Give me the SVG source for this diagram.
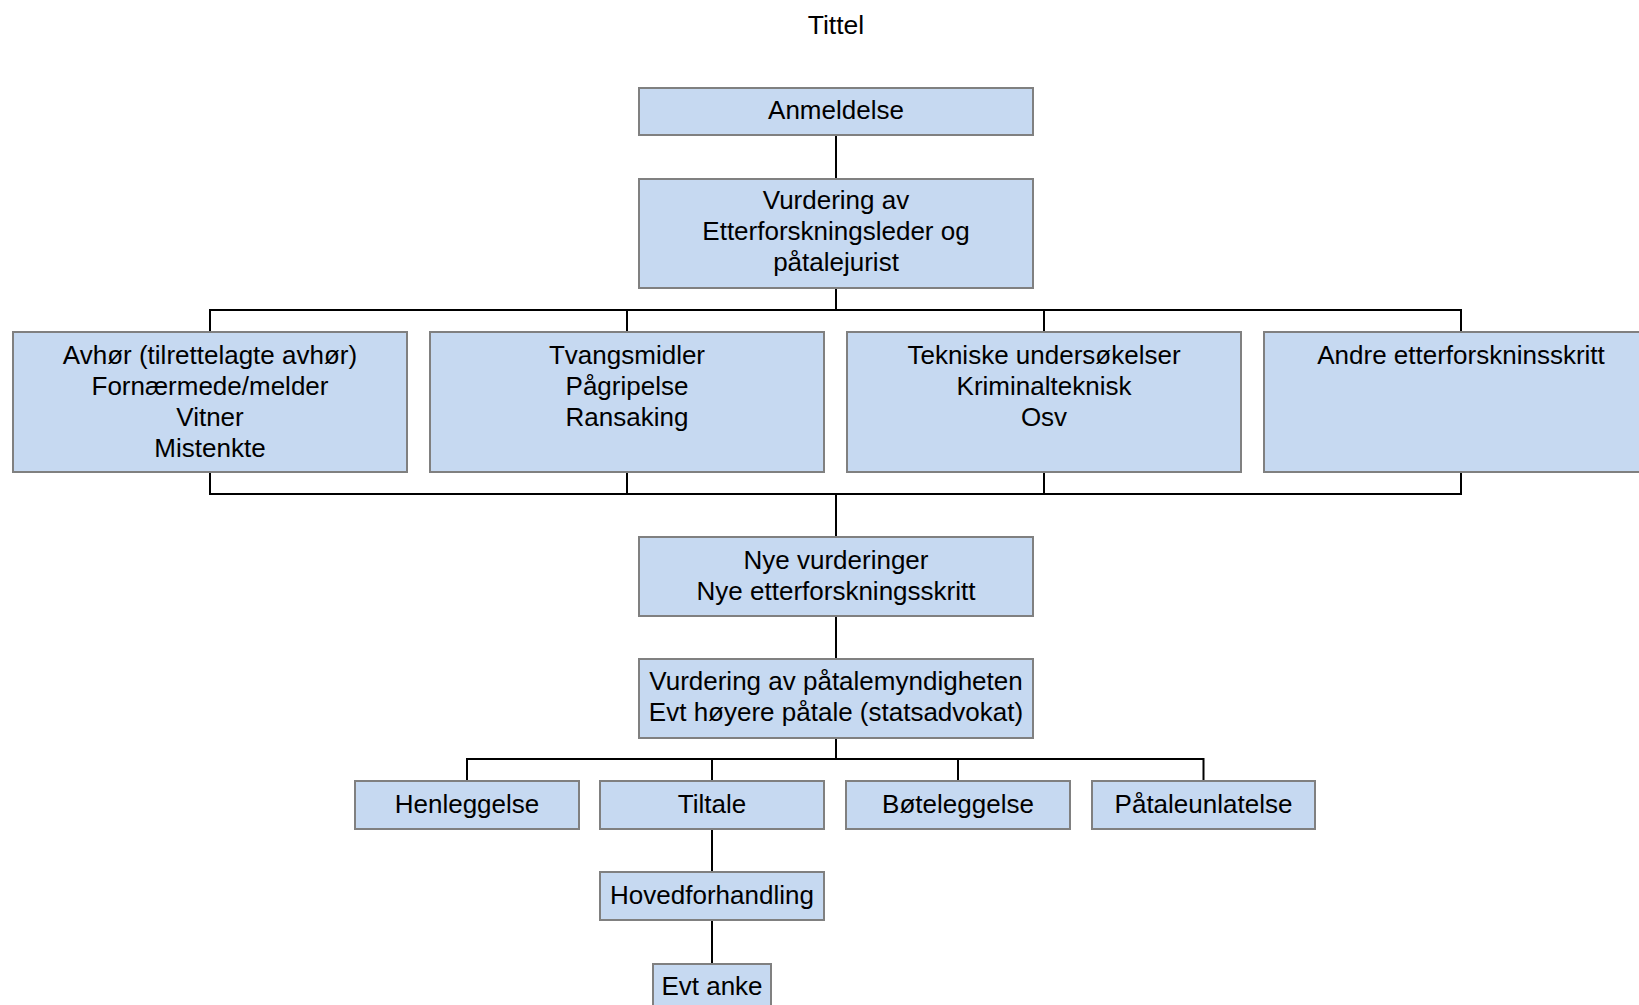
<svg xmlns="http://www.w3.org/2000/svg" width="1639" height="1005" viewBox="0 0 1639 1005">
<style>
.box{fill:#c6d9f1;stroke:#808080;stroke-width:2}
.t{font-family:"Liberation Sans",Arial,sans-serif;font-size:26px;fill:#000;text-anchor:middle}
.c{fill:none;stroke:#000;stroke-width:2}
</style>
<rect width="1639" height="1005" fill="#fff"/>
<text class="t" x="836" y="34" style="font-size:26.5px">Tittel</text>
<g id="connectors">
<path class="c" d="M836,135V179"/>
<path class="c" d="M836,288V310M210,332V310H1461V332M627,310V332M1044,310V332"/>
<path class="c" d="M210,472V494H1461V472M627,472V494M1044,472V494M836,494V537"/>
<path class="c" d="M836,616V659"/>
<path class="c" d="M836,738V759M467,781V759H1203.5V781M712,759V781M958,759V781"/>
<path class="c" d="M712,829V872M712,920V964"/>
</g>
<g id="n-anmeldelse"><rect class="box" x="639" y="88" width="394" height="47"/><text class="t" x="836" y="119">Anmeldelse</text></g>
<g id="n-vurdering"><rect class="box" x="639" y="179" width="394" height="109"/><text class="t" x="836" y="209">Vurdering av</text><text class="t" x="836" y="240">Etterforskningsleder og</text><text class="t" x="836" y="271">påtalejurist</text></g>
<g id="n-avhor"><rect class="box" x="13" y="332" width="394" height="140"/><text class="t" x="210" y="364">Avhør (tilrettelagte avhør)</text><text class="t" x="210" y="395">Fornærmede/melder</text><text class="t" x="210" y="426">Vitner</text><text class="t" x="210" y="457">Mistenkte</text></g>
<g id="n-tvang"><rect class="box" x="430" y="332" width="394" height="140"/><text class="t" x="627" y="364">Tvangsmidler</text><text class="t" x="627" y="395">Pågripelse</text><text class="t" x="627" y="426">Ransaking</text></g>
<g id="n-tekniske"><rect class="box" x="847" y="332" width="394" height="140"/><text class="t" x="1044" y="364">Tekniske undersøkelser</text><text class="t" x="1044" y="395">Kriminalteknisk</text><text class="t" x="1044" y="426">Osv</text></g>
<g id="n-andre"><rect class="box" x="1264" y="332" width="394" height="140"/><text class="t" x="1461" y="364">Andre etterforskninsskritt</text></g>
<g id="n-nye"><rect class="box" x="639" y="537" width="394" height="79"/><text class="t" x="836" y="569">Nye vurderinger</text><text class="t" x="836" y="600">Nye etterforskningsskritt</text></g>
<g id="n-patalemynd"><rect class="box" x="639" y="659" width="394" height="79"/><text class="t" x="836" y="690">Vurdering av påtalemyndigheten</text><text class="t" x="836" y="721">Evt høyere påtale (statsadvokat)</text></g>
<g id="n-henleggelse"><rect class="box" x="355" y="781" width="224" height="48"/><text class="t" x="467" y="813">Henleggelse</text></g>
<g id="n-tiltale"><rect class="box" x="600" y="781" width="224" height="48"/><text class="t" x="712" y="813">Tiltale</text></g>
<g id="n-boteleggelse"><rect class="box" x="846" y="781" width="224" height="48"/><text class="t" x="958" y="813">Bøteleggelse</text></g>
<g id="n-pataleunlatelse"><rect class="box" x="1092" y="781" width="223" height="48"/><text class="t" x="1203.5" y="813">Påtaleunlatelse</text></g>
<g id="n-hovedforhandling"><rect class="box" x="600" y="872" width="224" height="48"/><text class="t" x="712" y="904">Hovedforhandling</text></g>
<g id="n-anke"><rect class="box" x="653" y="964" width="118" height="48"/><text class="t" x="712" y="995">Evt anke</text></g>
</svg>
